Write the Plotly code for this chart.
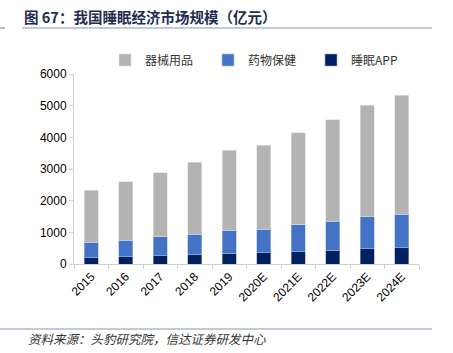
import plotly.graph_objects as go

years = ["2015", "2016", "2017", "2018", "2019", "2020E", "2021E", "2022E", "2023E", "2024E"]
app = [210, 232, 263, 295, 337, 358, 389, 432, 484, 516]
pharma = [474, 526, 590, 652, 726, 747, 843, 915, 1011, 1063]
devices = [1653, 1842, 2031, 2263, 2526, 2653, 2915, 3211, 3526, 3747]

L, R, T, B = 74, 419, 74, 264
W, H = 453, 353

def px(x):
    return (x - L) / (R - L)

def py(y):
    return (B - y) / (B - T)

num_font = "Liberation Sans, Arial, sans-serif"
cjk_font = "Noto Sans CJK SC, sans-serif"

fig = go.Figure()
fig.add_trace(go.Bar(x=years, y=app, name="睡眠APP", marker=dict(color="#002060", line=dict(color="#9aa6c4", width=0.6))))
fig.add_trace(go.Bar(x=years, y=pharma, name="药物保健", marker=dict(color="#4472C4", line=dict(color="#a9bfe6", width=0.6))))
fig.add_trace(go.Bar(x=years, y=devices, name="器械用品", marker=dict(color="#B3B3B3", line=dict(color="#e2e2e2", width=0.6))))

fig.update_layout(
    width=W, height=H,
    margin=dict(l=L, r=W - R, t=T, b=H - B, pad=0),
    barmode="stack", bargap=0.6,
    plot_bgcolor="white", paper_bgcolor="white",
    showlegend=True,
    legend=dict(orientation="h", x=px(105), y=py(60), xanchor="left", yanchor="middle",
                traceorder="reversed", font=dict(family=cjk_font, size=12, color="#333333"),
                itemwidth=30, entrywidth=58, entrywidthmode="pixels",
                bgcolor="rgba(0,0,0,0)"),
    xaxis=dict(showline=True, linecolor="#d0d0d0", linewidth=1, ticks="outside", ticklen=4,
               tickcolor="#d0d0d0", tickson="boundaries", tickangle=-45,
               tickfont=dict(family=num_font, size=12, color="#000000")),
    yaxis=dict(range=[0, 6000], dtick=1000, showgrid=False, showline=True, linecolor="#d0d0d0",
               linewidth=1, ticks="outside", ticklen=4, tickcolor="#d0d0d0", zeroline=False,
               tickfont=dict(family=num_font, size=12, color="#000000")),
)

fig.add_annotation(text="<b>图 67：我国睡眠经济市场规模（亿元）</b>", xref="paper", yref="paper",
                   x=px(22), y=py(17), xanchor="left", yanchor="middle", showarrow=False,
                   font=dict(family=cjk_font, size=14.5, color="#1F2D50"))
fig.add_annotation(text="<i>资料来源：头豹研究院，信达证券研发中心</i>", xref="paper", yref="paper",
                   x=px(26), y=py(338), xanchor="left", yanchor="middle", showarrow=False,
                   font=dict(family=cjk_font, size=12.5, color="#333333"))
fig.add_shape(type="line", xref="paper", yref="paper", x0=px(22), x1=px(432), y0=py(28), y1=py(28),
              line=dict(color="#8497B0", width=1.2))
fig.add_shape(type="line", xref="paper", yref="paper", x0=px(0), x1=px(5), y0=py(28), y1=py(28),
              line=dict(color="#8497B0", width=1.2))
fig.add_shape(type="line", xref="paper", yref="paper", x0=px(0), x1=px(432), y0=py(329), y1=py(329),
              line=dict(color="#8497B0", width=1.2))

fig.write_html("out.html")
